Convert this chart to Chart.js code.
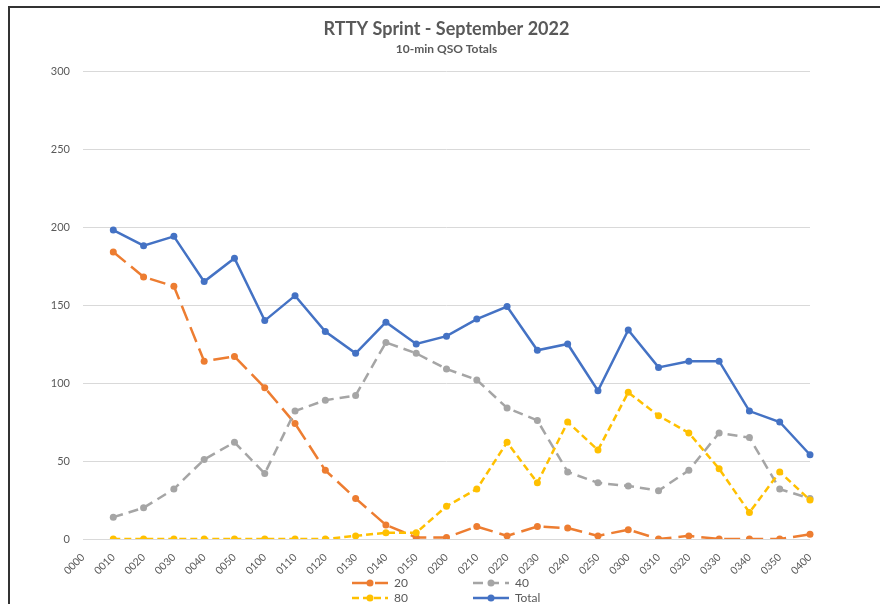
<!DOCTYPE html>
<html>
<head>
<meta charset="utf-8">
<script src="https://cdn.jsdelivr.net/npm/chart.js@4"></script>
<style>
  html, body { margin: 0; padding: 0; background: #fff; }
  #wrap { position: relative; width: 880px; height: 604px; overflow: hidden; }
  #frame { position: absolute; left: 8px; top: 6px; right: -10px; bottom: -10px;
           border-left: 2px solid #333; border-top: 2px solid #333; }
  canvas { position: absolute; left: 0; top: 0; }
</style>
</head>
<body>
<div id="wrap">
  <div id="frame"></div>
  <canvas id="qsoChart" width="880" height="604"></canvas>
</div>
<script>
const times = ['0000', '0010', '0020', '0030', '0040', '0050', '0100', '0110', '0120', '0130',
  '0140', '0150', '0200', '0210', '0220', '0230', '0240', '0250', '0300', '0310',
  '0320', '0330', '0340', '0350', '0400'];
const band20 = [null, 184, 168, 162, 114, 117, 97, 74, 44, 26, 9, 1, 1, 8, 2, 8, 7, 2, 6, 0, 2, 0, 0, 0, 3];
const band40 = [null, 14, 20, 32, 51, 62, 42, 82, 89, 92, 126, 119, 109, 102, 84, 76, 43, 36, 34, 31, 44, 68, 65, 32, 26];
const band80 = [null, 0, 0, 0, 0, 0, 0, 0, 0, 2, 4, 4, 21, 32, 62, 36, 75, 57, 94, 79, 68, 45, 17, 43, 25];
const totals = [null, 198, 188, 194, 165, 180, 140, 156, 133, 119, 139, 125, 130, 141, 149, 121, 125, 95, 134, 110, 114, 114, 82, 75, 54];
const yTicks = [0, 50, 100, 150, 200, 250, 300];

const textGray = '#595959';
const fontFam = 'Lato, "Open Sans", sans-serif';

function series(label, data, color, dash, order) {
    return {
        label: label,
        data: data,
        borderColor: color,
        backgroundColor: color,
        borderWidth: 2.5,
        borderDash: dash,
        pointRadius: 3.5,
        pointBorderWidth: 0,
        pointHoverRadius: 4,
        tension: 0,
        order: order
    };
}

// legend drawn by hand so it wraps into two columns like the original
const gridLegend = {
    id: 'gridLegend',
    afterDraw(chart) {
        const ctx = chart.ctx;
        const cols = [352, 473];
        const rows = [583, 598];
        chart.data.datasets.forEach((ds, i) => {
            const x = cols[i % 2];
            const y = rows[Math.floor(i / 2)];
            ctx.save();
            ctx.strokeStyle = ds.borderColor;
            ctx.lineWidth = 2.5;
            ctx.setLineDash(ds.borderDash || []);
            ctx.beginPath();
            ctx.moveTo(x, y);
            ctx.lineTo(x + 36, y);
            ctx.stroke();
            ctx.setLineDash([]);
            ctx.fillStyle = ds.borderColor;
            ctx.beginPath();
            ctx.arc(x + 18, y, 3.5, 0, Math.PI * 2);
            ctx.fill();
            ctx.fillStyle = textGray;
            ctx.font = '12px ' + fontFam;
            ctx.textBaseline = 'middle';
            ctx.fillText(ds.label, x + 42, y);
            ctx.restore();
        });
    }
};

const ctx = document.getElementById('qsoChart').getContext('2d');
new Chart(ctx, {
    type: 'line',
    data: {
        labels: times,
        datasets: [
            series('20', band20, '#ED7D31', [16, 7], 3),
            series('40', band40, '#A5A5A5', [10, 6], 2),
            series('80', band80, '#FFC000', [7, 4], 1),
            series('Total', totals, '#4472C4', [], 0)
        ]
    },
    options: {
        responsive: false,
        animation: false,
        layout: { padding: { left: 0, right: 70, top: 0, bottom: 0 } },
        plugins: {
            legend: { display: false },
            tooltip: { enabled: false },
            title: {
                display: true,
                fullSize: false,
                text: 'RTTY Sprint - September 2022',
                color: textGray,
                font: { family: fontFam, size: 18, weight: 'bold' },
                padding: { top: 18, bottom: 2 }
            },
            subtitle: {
                display: true,
                fullSize: false,
                text: '10-min QSO Totals',
                color: textGray,
                font: { family: fontFam, size: 12, weight: 'bold' },
                padding: { top: 0, bottom: 15 }
            }
        },
        scales: {
            x: {
                offset: false,
                grid: { display: false },
                border: { display: false },
                ticks: {
                    color: textGray,
                    font: { family: fontFam, size: 10.5 },
                    minRotation: 45,
                    maxRotation: 45,
                    autoSkip: false,
                    padding: 4
                },
                afterFit(scale) { scale.height = 65; }
            },
            y: {
                min: 0,
                max: 300,
                afterBuildTicks(scale) { scale.ticks = yTicks.map(v => ({ value: v })); },
                grid: { color: '#D9D9D9', lineWidth: 1, drawTicks: false },
                border: { display: false },
                ticks: {
                    color: textGray,
                    font: { family: fontFam, size: 11 },
                    padding: 13
                },
                afterFit(scale) { scale.width = 83; }
            }
        }
    },
    plugins: [gridLegend]
});
</script>
</body>
</html>
